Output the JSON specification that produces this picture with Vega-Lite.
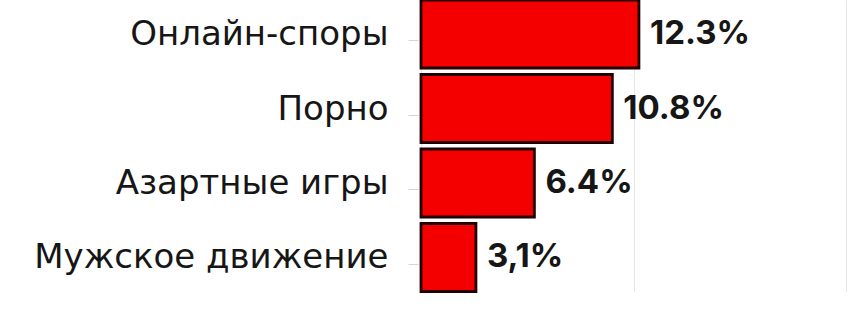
{
  "$schema": "https://vega.github.io/schema/vega-lite/v6.json",
  "width": 427,
  "height": 291.5,
  "autosize": {"type": "none"},
  "padding": {"left": 421, "top": 0, "right": 0, "bottom": 30.5},
  "background": "white",
  "config": {"view": {"stroke": null}, "font": "DejaVu Sans"},
  "data": {
    "values": [
      {"category": "Онлайн-споры", "share": 12.3, "label": "12.3%"},
      {"category": "Порно", "share": 10.8, "label": "10.8%"},
      {"category": "Азартные игры", "share": 6.4, "label": "6.4%"},
      {"category": "Мужское движение", "share": 3.1, "label": "3,1%"}
    ]
  },
  "encoding": {
    "y": {
      "field": "category",
      "type": "nominal",
      "sort": null,
      "scale": {"paddingInner": 0.087, "paddingOuter": 0},
      "axis": {
        "title": null,
        "domain": false,
        "bandPosition": 0.6,
        "labelOffset": 1,
        "offset": 3,
        "tickSize": 10,
        "tickColor": "#d4d4d4",
        "labelPadding": 20,
        "labelLimit": 0,
        "labelFont": "DejaVu Sans",
        "labelFontSize": 34,
        "labelColor": "#161616",
        "gridColor": "#ececec"
      }
    },
    "x": {
      "field": "share",
      "type": "quantitative",
      "scale": {"domain": [0, 24.1], "nice": false},
      "axis": {
        "title": null,
        "values": [0, 12, 24],
        "domain": false,
        "ticks": false,
        "labelPadding": 30,
        "labelFontSize": 30,
        "labelColor": "#cfcfcf",
        "labelFlush": false,
        "labelExpr": "datum.value + '%'",
        "gridColor": "#e6e6e6"
      }
    }
  },
  "layer": [
    {
      "mark": {"type": "bar", "fill": "#f40000", "stroke": "#220000", "strokeWidth": 2.8}
    },
    {
      "mark": {
        "type": "text",
        "align": "left",
        "baseline": "middle",
        "dx": 11,
        "font": "Inter",
        "fontSize": 33,
        "fontWeight": "bold",
        "color": "#161616"
      },
      "encoding": {"text": {"field": "label"}}
    }
  ]
}
